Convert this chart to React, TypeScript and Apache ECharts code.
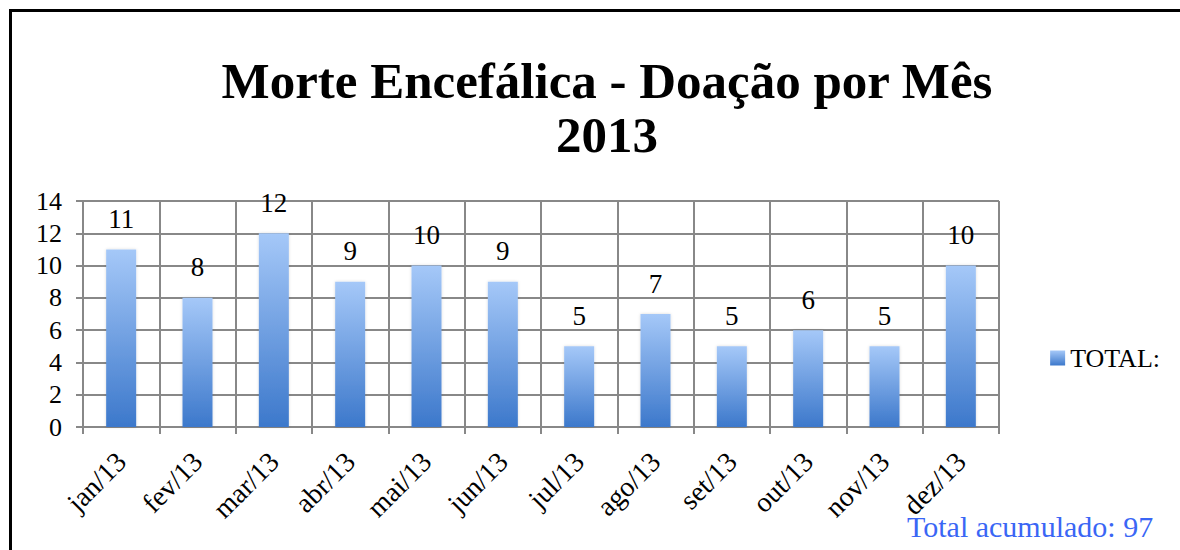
import React, { useEffect, useRef } from "react";
import * as echarts from "echarts";

const categories = ["jan/13", "fev/13", "mar/13", "abr/13", "mai/13", "jun/13", "jul/13", "ago/13", "set/13", "out/13", "nov/13", "dez/13"];
const totals = [11, 8, 12, 9, 10, 9, 5, 7, 5, 6, 5, 10];
const yTicks = { min: 0, max: 14, interval: 2 };
const seriesName = "TOTAL:";
const titleText = "Morte Encefálica - Doação por Mês\n2013";
const footerText = "Total acumulado: 97";

const FONT = "'Liberation Serif', 'DejaVu Serif', serif";

export default function App() {
  const ref = useRef<HTMLDivElement>(null);
  useEffect(() => {
    document.body.style.margin = "0";
    const chart = echarts.init(ref.current!, null, { renderer: "svg" });
    const barGrad = new echarts.graphic.LinearGradient(0, 0, 0, 1, [
      { offset: 0, color: "#a5c8f8" },
      { offset: 1, color: "#3c78cb" },
    ]);
    chart.setOption({
      animation: false,
      backgroundColor: "#ffffff",
      textStyle: { fontFamily: FONT },
      title: {
        text: titleText,
        left: 602,
        textAlign: "center",
        top: 49,
        textStyle: { fontFamily: FONT, fontWeight: "bold", fontSize: 51, lineHeight: 54, color: "#000" },
      },
      legend: {
        data: [seriesName],
        right: 15,
        top: 340,
        orient: "vertical",
        itemWidth: 15,
        itemHeight: 15,
        itemGap: 6,
        icon: "rect",
        textStyle: { fontFamily: FONT, fontSize: 26, color: "#000" },
      },
      grid: { left: 83, top: 201, right: 181, bottom: 123 },
      xAxis: {
        type: "category",
        data: categories,
        boundaryGap: true,
        axisLine: { show: true, lineStyle: { color: "#888", width: 2 } },
        axisTick: { show: true, length: 7, lineStyle: { color: "#888", width: 2 } },
        splitLine: { show: true, lineStyle: { color: "#888", width: 2 } },
        axisLabel: { rotate: 45, margin: 30, fontFamily: FONT, fontSize: 28, color: "#000" },
      },
      yAxis: {
        type: "value",
        min: yTicks.min,
        max: yTicks.max,
        interval: yTicks.interval,
        axisLine: { show: true, lineStyle: { color: "#888", width: 2 } },
        axisTick: { show: true, length: 7, lineStyle: { color: "#888", width: 2 } },
        splitLine: { show: true, lineStyle: { color: "#888", width: 2 } },
        axisLabel: { margin: 21, fontFamily: FONT, fontSize: 26, color: "#000" },
      },
      series: [
        {
          name: seriesName,
          type: "bar",
          data: totals,
          barWidth: 30,
          itemStyle: { color: barGrad, shadowColor: "rgba(0,0,0,0.15)", shadowBlur: 3 },
          label: { show: true, position: "top", distance: 17, fontFamily: FONT, fontSize: 27, color: "#000" },
        },
      ],
      graphic: [
        {
          type: "rect",
          shape: { x: 10.5, y: 10.5, width: 1300, height: 700 },
          style: { fill: "none", stroke: "#000", lineWidth: 3 },
          silent: true,
        },
        {
          type: "text",
          left: 907,
          top: 511,
          style: { text: footerText, fontFamily: FONT, fontSize: 30, fill: "#3a66f5" },
        },
      ],
    });
    return () => chart.dispose();
  }, []);
  return <div ref={ref} style={{ width: 1180, height: 550 }} />;
}
